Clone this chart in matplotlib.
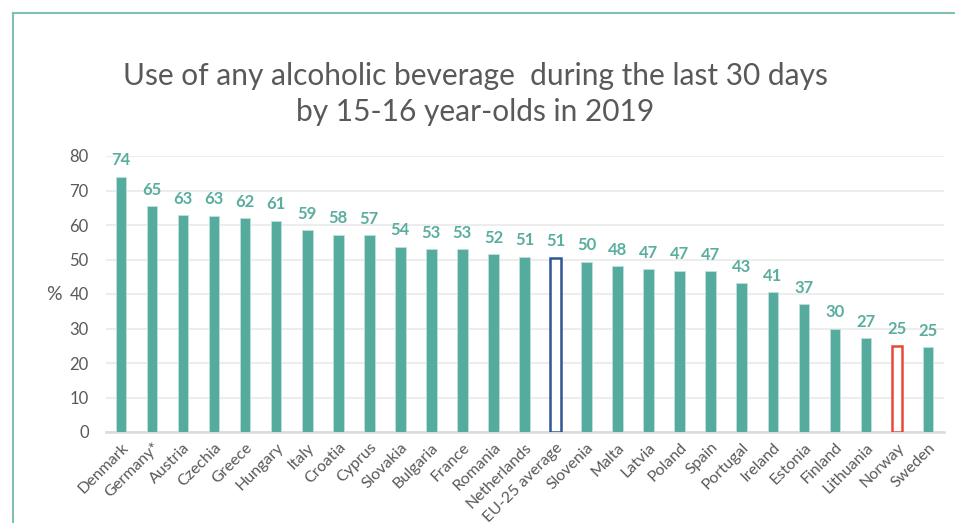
import matplotlib
matplotlib.use("Agg")
import matplotlib.pyplot as plt

countries = ["Denmark", "Germany*", "Austria", "Czechia", "Greece", "Hungary", "Italy",
             "Croatia", "Cyprus", "Slovakia", "Bulgaria", "France", "Romania", "Netherlands",
             "EU-25 average", "Slovenia", "Malta", "Latvia", "Poland", "Spain", "Portugal",
             "Ireland", "Estonia", "Finland", "Lithuania", "Norway", "Sweden"]
values = [74.0, 65.4, 62.8, 62.7, 62.0, 61.3, 58.5, 57.2, 57.1, 53.7, 53.0, 52.9, 51.6,
          50.8, 50.5, 49.4, 48.1, 47.3, 46.8, 46.7, 43.2, 40.5, 37.0, 30.0, 27.3, 25.0, 24.6]
labels = [74, 65, 63, 63, 62, 61, 59, 58, 57, 54, 53, 53, 52, 51, 51, 50, 48, 47, 47, 47,
          43, 41, 37, 30, 27, 25, 25]
yticks = [0, 10, 20, 30, 40, 50, 60, 70, 80]

teal = "#55AB9E"
label_teal = "#5AAE9F"
navy = "#2F5597"
red = "#E8483A"
gray_text = "#595959"

plt.rcParams['font.family'] = ['Lato', 'DejaVu Sans']

fig = plt.figure(figsize=(9.55, 5.23), dpi=100)
ax = fig.add_axes([105.5 / 955, 1 - 432 / 523, (943.5 - 105.5) / 955, (432 - 156) / 523])

x = list(range(len(countries)))
for i, c in enumerate(countries):
    if c == "EU-25 average":
        ax.bar(i, values[i], width=0.34, color="white", edgecolor=navy, linewidth=1.8, zorder=3)
    elif c == "Norway":
        ax.bar(i, values[i], width=0.34, color="white", edgecolor=red, linewidth=1.8, zorder=3)
    else:
        ax.bar(i, values[i], width=0.34, color=teal, edgecolor="#BFE0D9", linewidth=0.6, zorder=3)
    ax.text(i, values[i] + 2.4, str(labels[i]), ha="center", va="bottom",
            fontsize=12, color=label_teal, fontweight="bold")

ax.set_xlim(-0.5, len(countries) - 0.5)
ax.set_ylim(0, 80)
ax.set_yticks(yticks)
ax.set_yticklabels([str(t) for t in yticks], fontsize=12, color=gray_text)
ax.set_xticks(x)
ax.set_xticklabels(countries, rotation=45, ha="right", rotation_mode="anchor",
                   fontsize=11.5, color=gray_text)
ax.tick_params(axis="both", length=0)
ax.tick_params(axis="y", pad=12)
ax.tick_params(axis="x", pad=6)
ax.grid(axis="y", color="#EDEDED", linewidth=1.5, zorder=0)
for s in ["top", "right", "left"]:
    ax.spines[s].set_visible(False)
ax.spines["bottom"].set_color("#D9D9D9")
ax.spines["bottom"].set_linewidth(1.8)
ax.set_ylabel("%", rotation=0, fontsize=14, color=gray_text, labelpad=11, va="center")

fig.text(475 / 955, 1 - 94 / 523,
         "Use of any alcoholic beverage  during the last 30 days\nby 15-16 year-olds in 2019",
         ha="center", va="center", fontsize=21.5, color="#595959", linespacing=1.35)

# teal frame
fig.add_artist(plt.Line2D([13 / 955, 13 / 955], [0, 1 - 13 / 523], color="#7FBFB4",
                          linewidth=1.5, transform=fig.transFigure))
fig.add_artist(plt.Line2D([13 / 955, 1], [1 - 13 / 523, 1 - 13 / 523], color="#7FBFB4",
                          linewidth=1.5, transform=fig.transFigure))

fig.savefig("out.png", dpi=100)
